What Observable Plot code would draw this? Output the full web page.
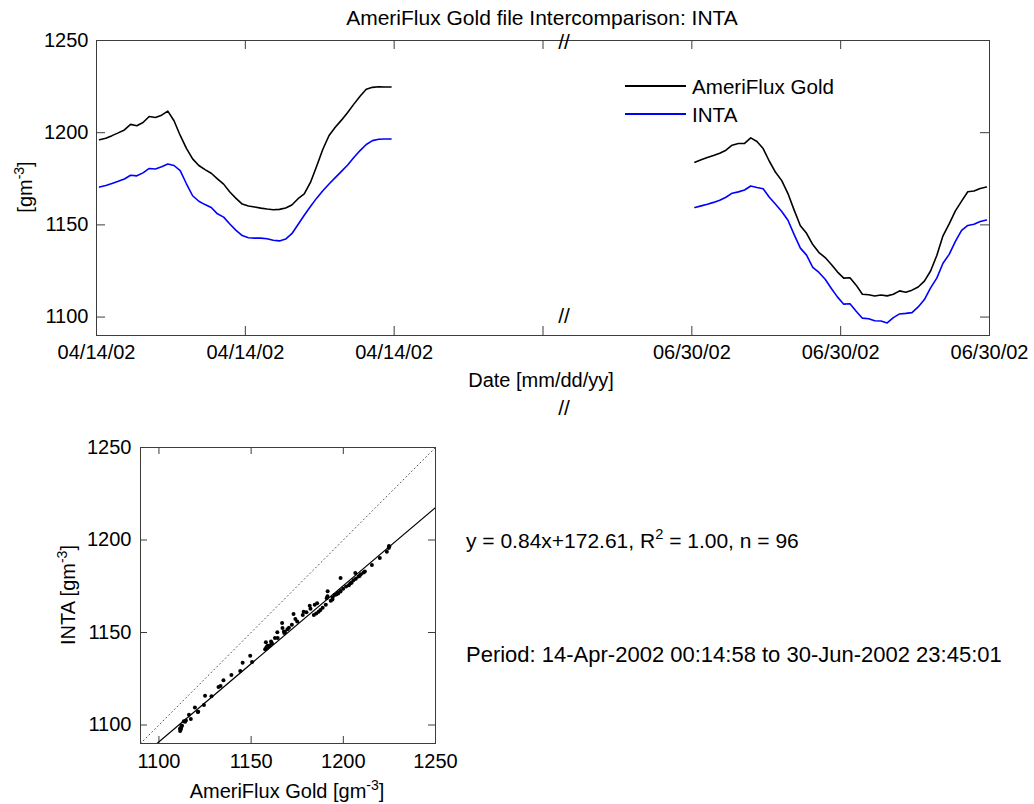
<!DOCTYPE html>
<html><head><meta charset="utf-8">
<script src="https://cdn.jsdelivr.net/npm/d3@7"></script>
<script src="https://cdn.jsdelivr.net/npm/@observablehq/plot@0.6"></script>
<style>
body{margin:0;background:#fff;font-family:"Liberation Sans",Arial,Helvetica,sans-serif;}
#fig{position:relative;width:1034px;height:804px;overflow:hidden;background:#fff;}
#fig svg{position:absolute;left:0;}
.t{position:absolute;white-space:nowrap;color:#000;font-size:20px;line-height:1;transform:translate(-50%,-50%);}
.l{position:absolute;white-space:nowrap;color:#000;font-size:20px;line-height:1;transform:translate(0,-50%);}
.rot{transform:translate(-50%,-50%) rotate(-90deg);}
.sup{font-size:0.7em;position:relative;top:-0.6em;}
.sw{position:absolute;height:2px;}
</style></head><body><div id="fig"></div>
<script>
// ---- data ----
const hoursOfDay = [0.25,0.75,1.25,1.75,2.25,2.75,3.25,3.75,4.25,4.75,5.25,5.75,6.25,6.75,7.25,7.75,8.25,8.75,9.25,9.75,10.25,10.75,11.25,11.75,
  12.25,12.75,13.25,13.75,14.25,14.75,15.25,15.75,16.25,16.75,17.25,17.75,18.25,18.75,19.25,19.75,20.25,20.75,21.25,21.75,22.25,22.75,23.25,23.75];
const dayLabels = ["04/14/02", "06/30/02"];
const segmentStart = [0, 48];
const goldApr = [1196.2,1197.0,1198.4,1199.9,1201.5,1204.5,1203.8,1205.5,1208.8,1208.2,1209.5,1211.7,1206.5,1198.5,1191.5,1185.8,1182.2,1180.0,1178.0,1175.0,1172.1,1167.8,1164.4,1161.3,
  1160.2,1159.7,1159.1,1158.6,1158.2,1158.4,1159.2,1160.8,1164.2,1166.8,1173.0,1181.8,1191.0,1198.5,1203.0,1206.8,1211.0,1215.5,1219.8,1223.6,1224.6,1224.9,1224.8,1224.8];
const intaApr = [1170.5,1171.4,1172.5,1173.6,1174.9,1176.9,1176.6,1178.2,1180.6,1180.3,1181.5,1183.0,1182.2,1179.4,1172.3,1165.8,1162.8,1161.0,1159.4,1156.0,1154.2,1150.5,1147.0,1144.2,
  1143.0,1142.8,1142.8,1142.5,1141.7,1141.3,1142.3,1145.2,1150.2,1155.2,1160.0,1164.5,1168.5,1172.2,1175.6,1179.0,1182.5,1186.5,1190.3,1193.6,1195.7,1196.4,1196.6,1196.6];
const goldJun = [1184.0,1185.3,1186.6,1187.6,1188.8,1190.5,1193.2,1194.1,1194.2,1197.2,1195.2,1191.4,1184.5,1178.5,1174.0,1167.0,1158.0,1149.5,1145.4,1139.3,1135.0,1132.3,1128.5,1124.4,
  1121.1,1121.3,1117.3,1112.4,1112.1,1111.4,1112.0,1111.5,1112.4,1114.2,1113.5,1114.6,1116.3,1119.5,1125.0,1133.4,1144.1,1150.5,1157.6,1162.9,1168.0,1168.4,1169.7,1170.5];
const intaJun = [1159.4,1160.3,1161.2,1162.2,1163.4,1165.0,1167.2,1167.9,1168.9,1171.1,1170.3,1169.6,1165.0,1161.2,1157.3,1152.5,1144.7,1137.4,1133.6,1127.0,1124.2,1120.5,1115.5,1110.8,
  1107.0,1107.2,1103.2,1099.4,1099.1,1098.0,1097.9,1096.8,1099.7,1101.7,1102.0,1102.4,1105.5,1109.5,1115.8,1121.1,1129.2,1134.0,1141.0,1147.0,1149.7,1150.3,1151.8,1152.6];
const xTickPos = [0, 12, 24, 36, 48, 60, 72];
const xTickLabels = ["04/14/02","04/14/02","04/14/02","","06/30/02","06/30/02","06/30/02"];
const yTicks = [1100, 1150, 1200, 1250];
const axisLimits = [1090, 1250];
const fitSlope = 0.844, fitIntercept = 162.5;
const seriesNames = ["AmeriFlux Gold", "INTA"];
const seriesColors = ["#000000", "#0000ff"];

// ---- build table ----
const rows = [];
[[goldApr, intaApr], [goldJun, intaJun]].forEach(([g, n], k) => {
  hoursOfDay.forEach((h, i) => rows.push({day: dayLabels[k], pos: h + segmentStart[k], gold: g[i], inta: n[i]}));
});
const labelMap = new Map(xTickPos.map((p, i) => [p, xTickLabels[i]]));
const plain = d => String(d);

const fig = document.getElementById("fig");
const font = '"Liberation Sans", Arial, Helvetica, sans-serif';
const axisColor = "#3c3c3c";

// ---- top time-series panel ----
const TW = 1034, TH = 420, tml = 96, tmr = 45, tmt = 40, tmb = 85;
const tpw = TW - tml - tmr, tph = TH - tmt - tmb, tk = 9;
const topPlot = Plot.plot({
  width: TW, height: TH, marginLeft: tml, marginRight: tmr, marginTop: tmt, marginBottom: tmb,
  style: {fontFamily: font, fontSize: "20px", color: "#000", background: "transparent", overflow: "visible"},
  x: {domain: [0, 72], ticks: xTickPos, tickFormat: d => labelMap.get(d), tickSize: 0, tickPadding: 9, label: null},
  y: {domain: axisLimits, ticks: yTicks, tickFormat: plain, tickSize: 0, tickPadding: 8, label: null},
  marks: [
    Plot.ruleX(xTickPos, {x: d => d, insetTop: tph - tk, stroke: axisColor}),
    Plot.ruleX(xTickPos, {x: d => d, insetBottom: tph - tk, stroke: axisColor}),
    Plot.ruleY(yTicks, {y: d => d, insetRight: tpw - tk, stroke: axisColor}),
    Plot.ruleY(yTicks, {y: d => d, insetLeft: tpw - tk, stroke: axisColor}),
    Plot.line(rows, {x: "pos", y: "gold", z: "day", stroke: seriesColors[0], strokeWidth: 1.6}),
    Plot.line(rows, {x: "pos", y: "inta", z: "day", stroke: seriesColors[1], strokeWidth: 1.6}),
    Plot.frame({stroke: axisColor})
  ]
});
topPlot.style.top = "0px";
fig.appendChild(topPlot);

// ---- bottom scatter panel ----
const BW = 470, BH = 384, bml = 140, bmr = 35, bmt = 27, bmb = 61;
const bpw = BW - bml - bmr, bph = BH - bmt - bmb, bk = 7;
const oneToOne = axisLimits.map(v => ({x: v, y: v}));
const fitLine = axisLimits.map(v => ({x: v, y: fitSlope * v + fitIntercept}));
const scatter = Plot.plot({
  width: BW, height: BH, marginLeft: bml, marginRight: bmr, marginTop: bmt, marginBottom: bmb,
  style: {fontFamily: font, fontSize: "20px", color: "#000", background: "transparent", overflow: "visible"},
  x: {domain: axisLimits, ticks: yTicks, tickFormat: plain, tickSize: 0, tickPadding: 10, label: null},
  y: {domain: axisLimits, ticks: yTicks, tickFormat: plain, tickSize: 0, tickPadding: 9, label: null},
  marks: [
    Plot.ruleX(yTicks, {x: d => d, insetTop: bph - bk, stroke: axisColor}),
    Plot.ruleX(yTicks, {x: d => d, insetBottom: bph - bk, stroke: axisColor}),
    Plot.ruleY(yTicks, {y: d => d, insetRight: bpw - bk, stroke: axisColor}),
    Plot.ruleY(yTicks, {y: d => d, insetLeft: bpw - bk, stroke: axisColor}),
    Plot.line(oneToOne, {x: "x", y: "y", stroke: "#555", strokeWidth: 1, strokeDasharray: "1,3", clip: true}),
    Plot.line(fitLine, {x: "x", y: "y", stroke: "#000", strokeWidth: 1.2, clip: true}),
    Plot.dot(rows, {x: "gold", y: "inta", r: 2, fill: "#000", stroke: "none"}),
    Plot.frame({stroke: axisColor})
  ]
});
scatter.style.top = "420px";
fig.appendChild(scatter);

// ---- text overlays ----
function addText(html, x, y, cls, size) {
  const d = document.createElement("div");
  d.className = cls; d.style.left = x + "px"; d.style.top = y + "px"; d.innerHTML = html;
  if (size) d.style.fontSize = size + "px";
  fig.appendChild(d); return d;
}
const unit = '[gm<span class="sup">-3</span>]';
addText("AmeriFlux Gold file Intercomparison: INTA", 542, 17, "t", 21);
addText(unit, 25, 187, "t rot");
addText("Date [mm/dd/yy]", 541, 380, "t");
addText("//", 564, 41, "t", 21);
addText("//", 564, 315, "t", 21);
addText("//", 564, 407, "t", 21);
addText("AmeriFlux Gold " + unit, 287, 791, "t");
addText("INTA " + unit, 68, 595, "t rot");
addText('y = 0.84x+172.61, R<span class="sup">2</span> = 1.00, n = 96', 466, 540, "l", 21);
addText("Period: 14-Apr-2002 00:14:58 to 30-Jun-2002 23:45:01", 466, 655, "l", 22);

// legend
seriesNames.forEach((name, i) => {
  const y = 86 + i * 28;
  const sw = document.createElement("div");
  sw.className = "sw";
  sw.style.left = "625px"; sw.style.width = "61px"; sw.style.top = (y - 1) + "px";
  sw.style.background = seriesColors[i];
  fig.appendChild(sw);
  addText(name, 692, y + 1, "l", 20.6);
});
</script></body></html>
